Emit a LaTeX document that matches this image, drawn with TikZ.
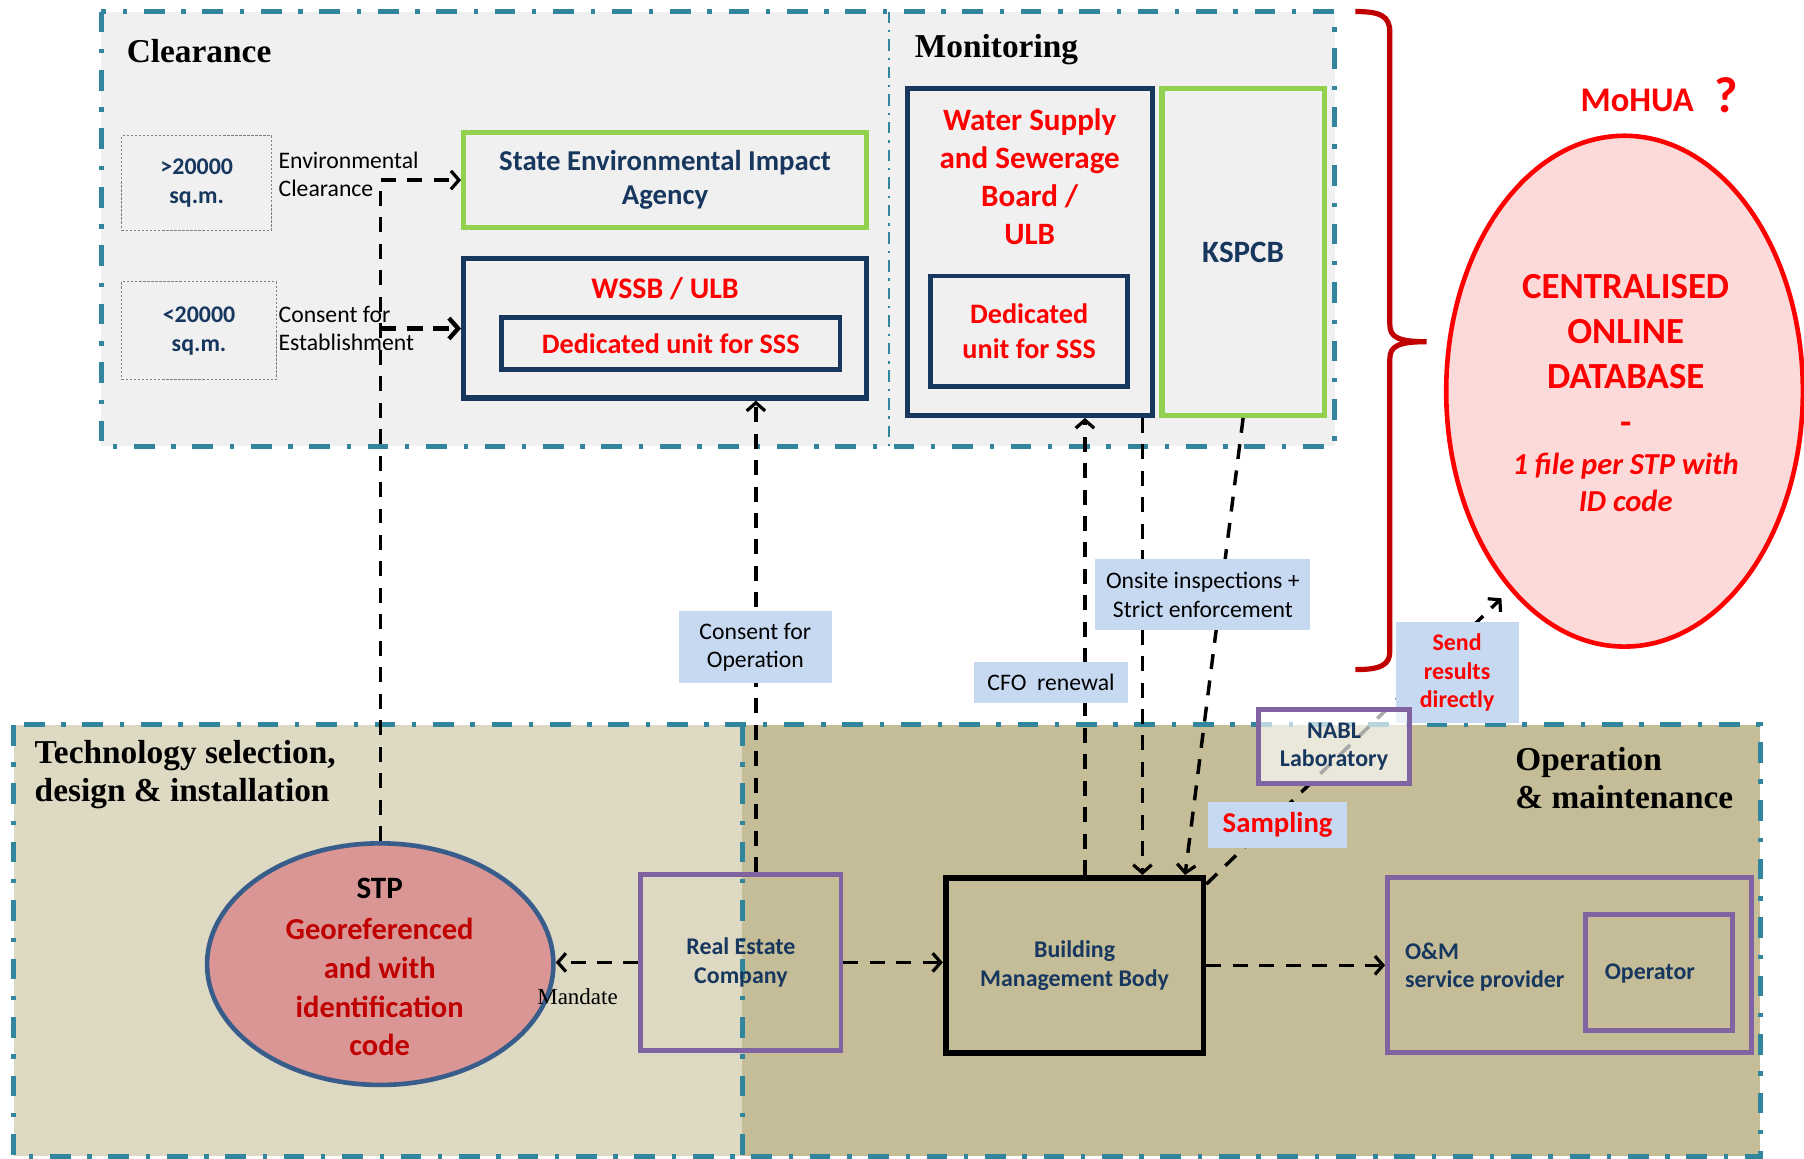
\documentclass[tikz,border=0pt]{standalone}
\usepackage{fontspec}
\setmainfont{Carlito}
\newfontfamily\serifttl{Liberation Serif}
\usetikzlibrary{arrows.meta,shapes.geometric,calc}

\definecolor{frameteal}{HTML}{31859C}
\definecolor{topgray}{HTML}{F0F0F0}
\definecolor{navyc}{HTML}{17375E}
\definecolor{greenc}{HTML}{92D050}
\definecolor{purplec}{HTML}{8064A2}
\definecolor{lblblue}{HTML}{C6D9F1}
\definecolor{darkred}{HTML}{C00000}
\definecolor{brightred}{HTML}{FF0000}
\definecolor{techfill}{HTML}{DDD9C3}
\definecolor{opfill}{HTML}{C4BD97}
\definecolor{stpfill}{HTML}{D99694}
\definecolor{stpline}{HTML}{385D8A}
\definecolor{dbfill}{HTML}{FDDADA}

\newcommand\fsz[2]{\fontsize{#1}{#2}\selectfont}

\begin{document}
\begin{tikzpicture}[x=1pt,y=-1pt,
  regionframe/.style={draw=frameteal, line width=4.3pt, dash pattern=on 18pt off 14.5pt on 3.8pt off 14.5pt},
  thinframe/.style={draw=frameteal, line width=1.8pt, dash pattern=on 10pt off 6pt on 2pt off 6pt},
  conn/.style={draw=black, line width=3pt, dash pattern=on 13pt off 10pt},
  connthick/.style={draw=black, line width=4.4pt, dash pattern=on 14pt off 9pt},
  arrowend/.style={-{Straight Barb[length=7pt,width=16pt,line width=2.8pt]}},
  arrowendthick/.style={-{Straight Barb[length=8pt,width=18pt,line width=3.8pt]}},
  plainbox/.style={rectangle, inner sep=0pt},
  navybox/.style={plainbox, draw=navyc, line width=4.5pt},
  greenbox/.style={plainbox, draw=greenc, line width=4.5pt},
  purplebox/.style={plainbox, draw=purplec, line width=4.2pt},
  areabox/.style={plainbox, draw=black!50, line width=0.9pt, dash pattern=on 2pt off 1.5pt,
    font=\fsz{20.8}{25}\bfseries, text=navyc, align=center},
  lbl/.style={plainbox, fill=lblblue, align=center},
  txt/.style={inner sep=0pt, align=center},
  title/.style={inner sep=0pt, anchor=west, align=left, font=\serifttl\fsz{29}{33}\bfseries},
]
\useasboundingbox (0,0) rectangle (1568,1007);

% ---- region backgrounds ----
\fill[topgray] (88,10) rectangle (1160,388);
\draw[regionframe] (88,10) rectangle (1160,388);
\draw[thinframe] (773,10) -- (773,388);

\fill[techfill] (12,630) rectangle (645,1005);
\fill[opfill] (645,630) rectangle (1530,1005);
\draw[regionframe] (12,630) rectangle (1530,1005);
\draw[regionframe] (645,630) -- (645,1005);

% ---- region titles ----
\node[title] (tclear) at (110,44) {Clearance};
\node[title] (tmon) at (795,43) {Monitoring};
\node[title] (ttech) at (30,673.5) {Technology selection,\\design \& installation};
\node[title] (top) at (1317,676) {Operation\\\& maintenance};

% ---- clearance ----
\node[areabox, minimum width=130pt, minimum height=82pt] (big) at (171,159) {>20000\\sq.m.};
\node[areabox, minimum width=134pt, minimum height=85pt] (small) at (173,287.5) {<20000\\sq.m.};
\node[txt, anchor=west, align=left, font=\fsz{20.6}{25}] (envcl) at (242,151.5) {Environmental\\Clearance};
\node[txt, anchor=west, align=left, font=\fsz{20.6}{25}] (cfe) at (242,285.5) {Consent for\\Establishment};

\node[greenbox, minimum width=350pt, minimum height=83pt, align=center,
      font=\fsz{25}{30}\bfseries, text=navyc] (seia) at (578,156.5) {State Environmental Impact\\Agency};
\node[navybox, minimum width=350pt, minimum height=121pt] (wssbA) at (578,285.5) {};
\node[txt, font=\fsz{26}{30}\bfseries, text=brightred] (wssbAt) at (578,251) {WSSB / ULB};
\node[navybox, line width=4pt, minimum width=294pt, minimum height=45pt,
      font=\fsz{24.5}{30}\bfseries, text=brightred] (dedA) at (583,298.5) {Dedicated unit for SSS};

% ---- monitoring ----
\node[navybox, minimum width=213pt, minimum height=284pt] (wssbB) at (895.5,219) {};
\node[txt, font=\fsz{27}{33}\bfseries, text=brightred] (wssbBt) at (895,153.5) {Water Supply\\and Sewerage\\Board /\\ULB};
\node[navybox, line width=4pt, minimum width=171pt, minimum height=96pt, align=center,
      font=\fsz{24.5}{30}\bfseries, text=brightred] (dedB) at (894.5,288) {Dedicated\\unit for SSS};
\node[greenbox, minimum width=141pt, minimum height=284pt,
      font=\fsz{27}{33}\bfseries, text=navyc] (kspcb) at (1080.5,219) {KSPCB};

% ---- brace and database ----
\draw[darkred, line width=4.5pt]
  (1178,10) .. controls (1200,10) and (1208,14) .. (1208,28)
  -- (1208,282) .. controls (1208,293) and (1215,297) .. (1240,297)
  .. controls (1215,297) and (1208,301) .. (1208,312)
  -- (1208,566) .. controls (1208,578) and (1200,582) .. (1178,582);

\node[txt, font=\fsz{30}{36}\bfseries, text=brightred] (mohua) at (1423,87) {MoHUA};
\node[txt, font=\fsz{44}{50}\bfseries, text=brightred] (qmark) at (1500,83) {?};

\node[ellipse, draw=brightred, fill=dbfill, line width=4pt, inner sep=0pt,
      minimum width=310pt, minimum height=444pt] (db) at (1412,340) {};
\node[txt, font=\fsz{32}{39}\bfseries, text=brightred] (dbt) at (1413,288) {CENTRALISED\\ONLINE\\DATABASE};
\node[txt, font=\fsz{32}{39}\bfseries, text=brightred] (dbdash) at (1413,372) {-};
\node[txt, font=\fsz{26.5}{32}\bfseries\itshape, text=brightred] (dbfile) at (1413,419) {1 file per STP with\\ID code};

% ---- bottom nodes ----
\node[ellipse, draw=stpline, fill=stpfill, line width=4pt, inner sep=0pt,
      minimum width=301pt, minimum height=210pt] (stp) at (330.5,838) {};
\node[txt, font=\fsz{27}{34}\bfseries] (stpt) at (330,772) {STP};
\node[txt, font=\fsz{26.5}{33.5}\bfseries, text=darkred] (stpd) at (330,858) {Georeferenced\\and with\\identification\\code};

\node[purplebox, minimum width=174pt, minimum height=153pt, align=center,
      font=\fsz{20.8}{25}\bfseries, text=navyc] (rec) at (644,836.5) {Real Estate\\Company};
\node[plainbox, draw=black, line width=5pt, minimum width=224pt, minimum height=152pt, align=center,
      font=\fsz{20.8}{25}\bfseries, text=navyc] (bmb) at (934,839) {Building\\Management Body};
\node[purplebox, minimum width=316pt, minimum height=152pt] (om) at (1364,839) {};
\node[txt, anchor=west, align=left, font=\fsz{20.8}{25}\bfseries, text=navyc] (omt) at (1221,840.5) {O\&M\\service provider};
\node[purplebox, minimum width=128pt, minimum height=101pt] (oper) at (1442,845.5) {};
\node[txt, font=\fsz{20.8}{25}\bfseries, text=navyc] (opert) at (1434,846) {Operator};

% ---- connectors ----
\draw[conn, arrowend] (stp.north) |- (seia.west);
\coordinate (cfestart) at (stp.north |- wssbA.west);
\draw[connthick, arrowendthick] (cfestart) -- (wssbA.west);

\draw[conn, arrowend] ([xshift=13pt]rec.north) -- ([xshift=13pt]rec.north |- wssbA.south);
\draw[conn, arrowend] ([xshift=9pt]bmb.north) -- ([xshift=9pt]bmb.north |- wssbB.south);
\draw[conn, arrowend] ([xshift=97.5pt]wssbB.south) -- ([xshift=97.5pt]wssbB.south |- bmb.north);
\draw[conn, arrowend] (kspcb.south) -- ([xshift=96pt]bmb.north);

\coordinate (dbin) at (1305,520);
\draw[conn, arrowend] ([yshift=-8pt]bmb.north east) -- (dbin);

\draw[conn, arrowend] (rec.west) -- (rec.west -| stp.east);
\draw[conn, arrowend] (rec.east) -- (rec.east -| bmb.west);
\draw[conn, arrowend] (bmb.east) -- (om.west);

% ---- connector labels ----
\node[txt, font=\serifttl\fsz{20}{24}] (mandate) at (502,866) {Mandate};
\node[lbl, minimum width=133pt, minimum height=63pt, font=\fsz{20.6}{25}] (cfo) at (656.5,562.5) {Consent for\\Operation};
\node[lbl, minimum width=133pt, minimum height=36pt, font=\fsz{20.6}{25}] (cfor) at (913.5,593) {CFO\ \ renewal};
\node[lbl, minimum width=187pt, minimum height=62pt, font=\fsz{20.6}{25}] (onsite) at (1045.5,517) {Onsite inspections +\\Strict enforcement};
\node[lbl, minimum width=121pt, minimum height=40pt, font=\fsz{25}{30}\bfseries, text=brightred] (sampling) at (1110.5,717) {Sampling};
\node[lbl, minimum width=107pt, minimum height=87pt, font=\fsz{20.8}{24.5}\bfseries, text=brightred] (send) at (1266.5,584.5) {Send\\results\\directly};
\node[purplebox, fill=white, fill opacity=0.66, text opacity=1, minimum width=131pt, minimum height=64pt,
      align=center, font=\fsz{20.8}{25}\bfseries, text=navyc] (nabl) at (1159.5,649) {NABL\\Laboratory};
\end{tikzpicture}
\end{document}
